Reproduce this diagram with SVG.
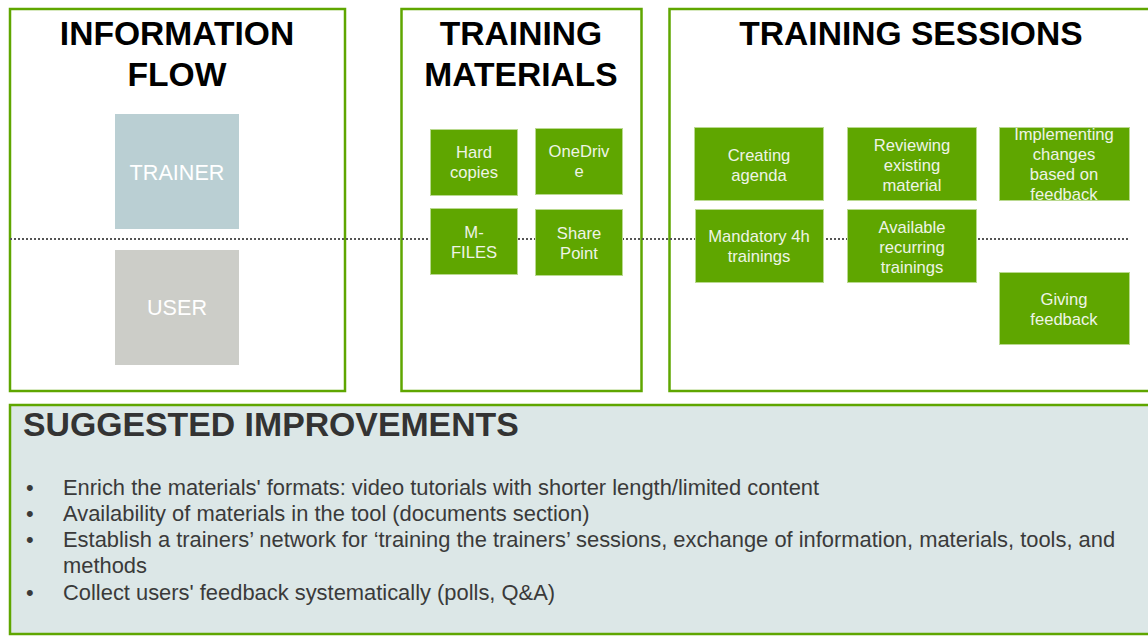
<svg xmlns="http://www.w3.org/2000/svg" width="1148" height="636" viewBox="0 0 1148 636">
<style>
.panel{fill:#fff;stroke:#5fa600;stroke-width:2.5}
.title{font-family:"Liberation Sans",Arial,sans-serif;font-weight:bold;font-size:33.6px;fill:#000;text-anchor:middle}
.gbox{fill:#5fa600;stroke:#b9d98f;stroke-width:1}
.gtxt{font-family:"Liberation Sans",Arial,sans-serif;font-size:16.6px;fill:#eef4e6;text-anchor:middle}
.role{font-family:"Liberation Sans",Arial,sans-serif;font-size:21.6px;fill:#fff;text-anchor:middle}
.bul{font-family:"Liberation Sans",Arial,sans-serif;font-size:21.9px;fill:#3a3a3a}
</style>
<rect width="1148" height="636" fill="#fff"/>
<g id="panel-info">
<rect class="panel" x="10" y="9" width="335" height="382"/>
<text class="title" x="177" y="45">INFORMATION</text>
<text class="title" x="177" y="86">FLOW</text>
</g>
<g id="panel-materials">
<rect class="panel" x="401.5" y="9" width="240" height="382"/>
<text class="title" x="521" y="45">TRAINING</text>
<text class="title" x="521" y="86">MATERIALS</text>
</g>
<g id="panel-sessions">
<rect class="panel" x="669.5" y="9" width="500" height="382"/>
<text class="title" x="911" y="45">TRAINING SESSIONS</text>
</g>
<g id="connectors">
<line x1="10" y1="239" x2="1130" y2="239" stroke="#555" stroke-width="2" stroke-dasharray="2,2"/>
</g>
<g id="trainer">
<rect x="115" y="114" width="124" height="115" fill="#bacfd3"/>
<text class="role" x="177" y="180">TRAINER</text>
</g>
<g id="user">
<rect x="115" y="250" width="124" height="115" fill="#cccdc8"/>
<text class="role" x="177" y="315">USER</text>
</g>
<g id="hard-copies">
<rect class="gbox" x="430.5" y="129.5" width="87" height="66"/>
<text class="gtxt" x="474" y="158">Hard</text>
<text class="gtxt" x="474" y="178">copies</text>
</g>
<g id="onedrive">
<rect class="gbox" x="535.5" y="128.5" width="87" height="66"/>
<text class="gtxt" x="579" y="157">OneDriv</text>
<text class="gtxt" x="579" y="177">e</text>
</g>
<g id="m-files">
<rect class="gbox" x="430.5" y="208.5" width="87" height="66"/>
<text class="gtxt" x="474" y="238">M-</text>
<text class="gtxt" x="474" y="258">FILES</text>
</g>
<g id="sharepoint">
<rect class="gbox" x="535.5" y="209.5" width="87" height="66"/>
<text class="gtxt" x="579" y="239">Share</text>
<text class="gtxt" x="579" y="259">Point</text>
</g>
<g id="creating-agenda">
<rect class="gbox" x="694.5" y="127.5" width="129" height="73"/>
<text class="gtxt" x="759" y="161">Creating</text>
<text class="gtxt" x="759" y="181">agenda</text>
</g>
<g id="reviewing">
<rect class="gbox" x="847.5" y="127.5" width="129" height="73"/>
<text class="gtxt" x="912" y="151">Reviewing</text>
<text class="gtxt" x="912" y="171">existing</text>
<text class="gtxt" x="912" y="191">material</text>
</g>
<g id="implementing">
<rect class="gbox" x="999.5" y="127.5" width="130" height="73"/>
<text class="gtxt" x="1064" y="140">Implementing</text>
<text class="gtxt" x="1064" y="160">changes</text>
<text class="gtxt" x="1064" y="180">based on</text>
<text class="gtxt" x="1064" y="200">feedback</text>
</g>
<g id="mandatory">
<rect class="gbox" x="695.5" y="209.5" width="128" height="73"/>
<text class="gtxt" x="759" y="242">Mandatory 4h</text>
<text class="gtxt" x="759" y="262">trainings</text>
</g>
<g id="available">
<rect class="gbox" x="847.5" y="209.5" width="129" height="73"/>
<text class="gtxt" x="912" y="233">Available</text>
<text class="gtxt" x="912" y="253">recurring</text>
<text class="gtxt" x="912" y="273">trainings</text>
</g>
<g id="giving-feedback">
<rect class="gbox" x="999.5" y="272.5" width="130" height="72"/>
<text class="gtxt" x="1064" y="305">Giving</text>
<text class="gtxt" x="1064" y="325">feedback</text>
</g>
<g id="improvements">
<rect x="10" y="405" width="1160" height="229" fill="#dce7e7" stroke="#5fa600" stroke-width="2.5"/>
<text x="23" y="436" font-family="Liberation Sans, Arial, sans-serif" font-weight="bold" font-size="33.8" fill="#333">SUGGESTED IMPROVEMENTS</text>
<g class="bul">
<text x="26" y="495">•</text><text x="63" y="495">Enrich the materials' formats: video tutorials with shorter length/limited content</text>
<text x="26" y="521">•</text><text x="63" y="521">Availability of materials in the tool (documents section)</text>
<text x="26" y="547">•</text><text x="63" y="547">Establish a trainers’ network for ‘training the trainers’ sessions, exchange of information, materials, tools, and</text>
<text x="63" y="573">methods</text>
<text x="26" y="600">•</text><text x="63" y="600">Collect users' feedback systematically (polls, Q&amp;A)</text>
</g>
</g>
</svg>
